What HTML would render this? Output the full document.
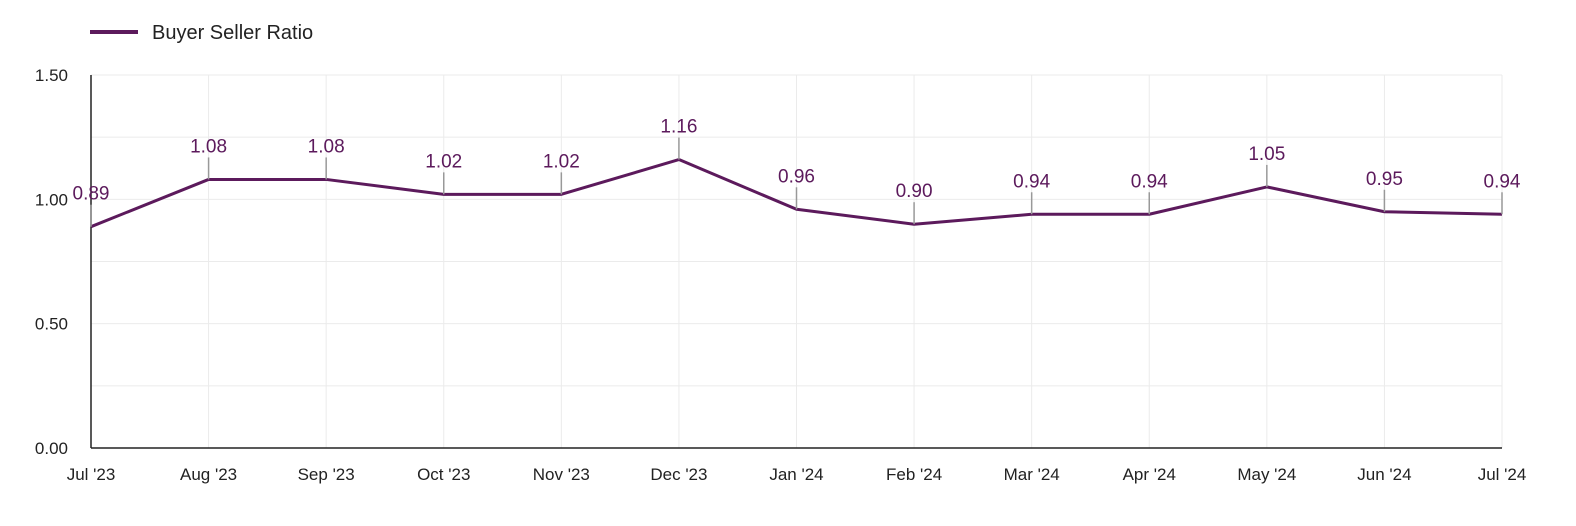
<!DOCTYPE html>
<html><head><meta charset="utf-8"><style>
html,body{margin:0;padding:0;background:#fff;overflow:hidden;width:1576px;height:526px;}
svg{display:block;}
svg text{font-family:"Liberation Sans",sans-serif;}
</style></head><body>
<svg id="chart" width="1576" height="526" viewBox="0 0 1576 526">
<g>
<line x1="90" y1="32" x2="138" y2="32" stroke="#5c1a5c" stroke-width="4"/>
<text x="152" y="39" font-size="20" fill="#222">Buyer Seller Ratio</text>
</g>
<g id="grid"></g>
<g id="axes"></g>
<g id="series"></g>
</svg>
<script>
const categories=["Jul '23","Aug '23","Sep '23","Oct '23","Nov '23","Dec '23","Jan '24","Feb '24","Mar '24","Apr '24","May '24","Jun '24","Jul '24"];
const values=[0.89,1.08,1.08,1.02,1.02,1.16,0.96,0.90,0.94,0.94,1.05,0.95,0.94];
const yTicks=[0,0.5,1.0,1.5];
const yGrid=[0,0.25,0.5,0.75,1.0,1.25,1.5];
const NS="http://www.w3.org/2000/svg";
const L=91,R=1502,T=75,B=448,YMAX=1.5;
const x=i=>L+(R-L)*i/(categories.length-1);
const y=v=>B-(B-T)*v/YMAX;
function mk(tag,attrs,parent){const e=document.createElementNS(NS,tag);for(const k in attrs)e.setAttribute(k,attrs[k]);parent.appendChild(e);return e;}
const grid=document.getElementById('grid'),axes=document.getElementById('axes'),series=document.getElementById('series');
yGrid.forEach(v=>{const l=mk('line',{x1:L,x2:R,y1:y(v),y2:y(v),stroke:'#ebebeb','stroke-width':1},grid);

});
categories.forEach((c,i)=>{const l=mk('line',{x1:x(i),x2:x(i),y1:T,y2:B,stroke:'#ebebeb','stroke-width':1},grid);


const t=mk('text',{x:x(i),y:480,'font-size':17,fill:'#222','text-anchor':'middle'},axes);t.textContent=c;

});
yTicks.forEach(v=>{const t=mk('text',{x:68,y:y(v)+6,'font-size':17,fill:'#222','text-anchor':'end'},axes);t.textContent=v.toFixed(2);

});
const ya=mk('line',{x1:L,x2:L,y1:T,y2:B,stroke:'#222','stroke-width':1.5},axes);


const xa=mk('line',{x1:L,x2:R,y1:B,y2:B,stroke:'#222','stroke-width':1.5},axes);


const p=mk('polyline',{points:values.map((v,i)=>x(i)+','+y(v)).join(' '),fill:'none',stroke:'#5c1a5c','stroke-width':3,'stroke-linejoin':'round'},series);


values.forEach((v,i)=>{const py=y(v);
const tk=mk('line',{x1:x(i),x2:x(i),y1:py-22,y2:py,stroke:'#999','stroke-width':1.5},series);


const t=mk('text',{x:x(i),y:py-27,'font-size':19,fill:'#5c1a5c','text-anchor':'middle'},series);t.textContent=v.toFixed(2);

});
</script>
</body></html>
